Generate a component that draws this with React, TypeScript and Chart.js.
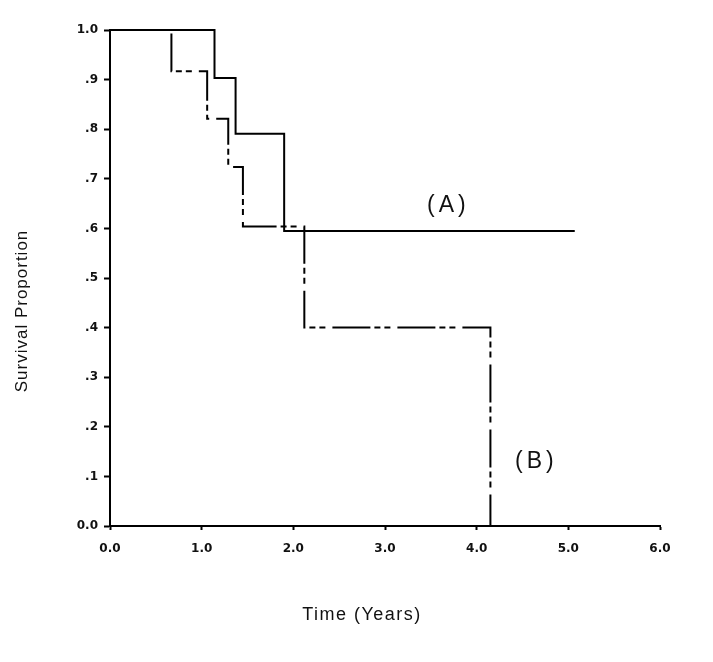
import React, { useEffect, useRef } from "react";
import { Chart, registerables } from "chart.js";

Chart.register(...registerables);

// Group A (solid): event times (years) and survival proportions
const timeA = [0, 1.14, 1.37, 1.9, 5.07];
const survA = [1.0, 0.903, 0.791, 0.595, 0.595];

// Group B (dash-dot): event times (years) and survival proportions
const timeB = [0, 0.67, 1.06, 1.29, 1.45, 2.12, 4.15];
const survB = [1.0, 0.917, 0.821, 0.724, 0.604, 0.4, 0.0];

const xTickLabels = ["0.0", "1.0", "2.0", "3.0", "4.0", "5.0", "6.0"];
const yTickLabels = ["0.0", ".1", ".2", ".3", ".4", ".5", ".6", ".7", ".8", ".9", "1.0"];

const groupNames = ["(A)", "(B)"];
const groupLabelX = [3.67, 4.63];
const groupLabelY = [0.645, 0.13];

const xTitle = "Time (Years)";
const yTitle = "Survival Proportion";

export default function App() {
  const ref = useRef<HTMLCanvasElement | null>(null);

  useEffect(() => {
    if (!ref.current) return;

    const textPlugin = {
      id: "texts",
      afterDraw(chart: any) {
        const ctx = chart.ctx as CanvasRenderingContext2D;
        const xs = chart.scales.x;
        const ys = chart.scales.y;
        ctx.save();
        ctx.fillStyle = "#111";
        ctx.textAlign = "center";
        ctx.textBaseline = "middle";
        // group labels
        ctx.font = "23px 'Liberation Sans', Arial, sans-serif";
        (ctx as any).letterSpacing = "4px";
        groupNames.forEach((name, i) => {
          ctx.fillText(name, xs.getPixelForValue(groupLabelX[i]) + 2, ys.getPixelForValue(groupLabelY[i]));
        });
        // x title
        ctx.font = "18px 'Liberation Sans', Arial, sans-serif";
        (ctx as any).letterSpacing = "1.5px";
        ctx.fillText(xTitle, 362, 615);
        // y title
        ctx.font = "17px 'Liberation Sans', Arial, sans-serif";
        (ctx as any).letterSpacing = "1px";
        ctx.translate(22, 311);
        ctx.rotate(-Math.PI / 2);
        ctx.fillText(yTitle, 0, 0);
        ctx.restore();
      },
    };

    const chart = new Chart(ref.current, {
      type: "line",
      data: {
        datasets: [
          {
            label: "A",
            data: timeA.map((t, i) => ({ x: t, y: survA[i] })),
            borderColor: "#000",
            borderWidth: 2,
            stepped: "before",
            pointRadius: 0,
            fill: false,
            clip: false as any,
          },
          {
            label: "B",
            data: timeB.map((t, i) => ({ x: t, y: survB[i] })),
            borderColor: "#000",
            borderWidth: 2,
            borderDash: [38, 4, 6, 4, 6, 7],
            stepped: "before",
            pointRadius: 0,
            fill: false,
            clip: false as any,
          },
        ],
      },
      options: {
        animation: false,
        responsive: false,
        devicePixelRatio: 1,
        layout: { padding: { left: 0, top: 30, right: 53, bottom: 0 } },
        plugins: {
          legend: { display: false },
          tooltip: { enabled: false },
        },
        scales: {
          x: {
            type: "linear",
            min: 0,
            max: 6,
            afterFit: (s: any) => {
              s.height = 136;
            },
            border: { display: true, color: "#000", width: 2 },
            grid: { drawOnChartArea: false, tickLength: 4, tickColor: "#000", tickWidth: 2 },
            ticks: {
              stepSize: 1,
              padding: 12,
              color: "#111",
              font: { family: "'DejaVu Sans', sans-serif", size: 12, weight: "bold" },
              callback: (_v: any, i: number) => xTickLabels[i],
            },
          },
          y: {
            type: "linear",
            min: 0,
            max: 1,
            afterFit: (s: any) => {
              s.width = 110;
            },
            border: { display: true, color: "#000", width: 2 },
            grid: { drawOnChartArea: false, tickLength: 6, tickColor: "#000", tickWidth: 2 },
            ticks: {
              stepSize: 0.1,
              padding: 6,
              color: "#111",
              font: { family: "'DejaVu Sans', sans-serif", size: 12, weight: "bold" },
              callback: (_v: any, i: number) => yTickLabels[i],
            },
          },
        },
      } as any,
      plugins: [textPlugin],
    });

    return () => chart.destroy();
  }, []);

  return (
    <div style={{ position: "fixed", left: 0, top: 0, width: 713, height: 662, background: "#fff" }}>
      <canvas ref={ref} width={713} height={662} />
    </div>
  );
}
